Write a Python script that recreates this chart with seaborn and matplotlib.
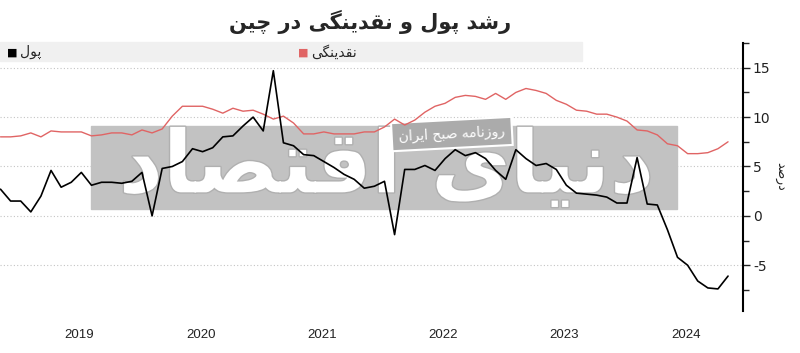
import numpy as np
import pandas as pd
import matplotlib.pyplot as plt
import matplotlib.patheffects as pe
from matplotlib.patches import Rectangle
import seaborn as sns

# monthly data, Oct 2018 .. Oct 2024 (yoy growth, %)
start_year, start_month = 2018, 10
m1 = [2.7, 1.5, 1.5,
      0.4, 2.0, 4.6, 2.9, 3.4, 4.4, 3.1, 3.4, 3.4, 3.3, 3.5, 4.4,
      0.0, 4.8, 5.0, 5.5, 6.8, 6.5, 6.9, 8.0, 8.1, 9.1, 10.0, 8.6,
      14.7, 7.4, 7.1, 6.2, 6.1, 5.5, 4.9, 4.2, 3.7, 2.8, 3.0, 3.5,
      -1.9, 4.7, 4.7, 5.1, 4.6, 5.8, 6.7, 6.1, 6.4, 5.8, 4.6, 3.7,
      6.7, 5.8, 5.1, 5.3, 4.7, 3.1, 2.3, 2.2, 2.1, 1.9, 1.3, 1.3,
      5.9, 1.2, 1.1, -1.4, -4.2, -5.0, -6.6, -7.3, -7.4, -6.1]
m2 = [8.0, 8.0, 8.1,
      8.4, 8.0, 8.6, 8.5, 8.5, 8.5, 8.1, 8.2, 8.4, 8.4, 8.2, 8.7,
      8.4, 8.8, 10.1, 11.1, 11.1, 11.1, 10.8, 10.4, 10.9, 10.6, 10.7, 10.3,
      9.8, 10.1, 9.4, 8.3, 8.3, 8.5, 8.3, 8.3, 8.3, 8.5, 8.5, 9.0,
      9.8, 9.2, 9.7, 10.5, 11.1, 11.4, 12.0, 12.2, 12.1, 11.8, 12.4, 11.8,
      12.5, 12.9, 12.7, 12.4, 11.7, 11.3, 10.7, 10.6, 10.3, 10.3, 10.0, 9.6,
      8.7, 8.6, 8.2, 7.3, 7.1, 6.3, 6.3, 6.4, 6.8, 7.5]
years = [2019, 2020, 2021, 2022, 2023, 2024]
y_ticks = [-5, 0, 5, 10, 15]

title = "رشد پول و نقدینگی در چین"
label_m1 = "پول"
label_m2 = "نقدینگی"
ylabel = "درصد"
stamp = "روزنامه صبح ایران"
logo = "دنیای اقتصاد"

# tiny persian shaper: (isolated, final, initial, medial)
FORMS = {
    'ا': ('\uFE8D', '\uFE8E', None, None),
    'ب': ('\uFE8F', '\uFE90', '\uFE91', '\uFE92'),
    'پ': ('\uFB56', '\uFB57', '\uFB58', '\uFB59'),
    'ت': ('\uFE95', '\uFE96', '\uFE97', '\uFE98'),
    'چ': ('\uFB7A', '\uFB7B', '\uFB7C', '\uFB7D'),
    'ح': ('\uFEA1', '\uFEA2', '\uFEA3', '\uFEA4'),
    'د': ('\uFEA9', '\uFEAA', None, None),
    'ر': ('\uFEAD', '\uFEAE', None, None),
    'ز': ('\uFEAF', '\uFEB0', None, None),
    'ش': ('\uFEB5', '\uFEB6', '\uFEB7', '\uFEB8'),
    'ص': ('\uFEB9', '\uFEBA', '\uFEBB', '\uFEBC'),
    'ق': ('\uFED5', '\uFED6', '\uFED7', '\uFED8'),
    'گ': ('\uFB92', '\uFB93', '\uFB94', '\uFB95'),
    'ل': ('\uFEDD', '\uFEDE', '\uFEDF', '\uFEE0'),
    'م': ('\uFEE1', '\uFEE2', '\uFEE3', '\uFEE4'),
    'ن': ('\uFEE5', '\uFEE6', '\uFEE7', '\uFEE8'),
    'ه': ('\uFEE9', '\uFEEA', '\uFEEB', '\uFEEC'),
    'و': ('\uFEED', '\uFEEE', None, None),
    'ی': ('\uFBFC', '\uFBFD', '\uFBFE', '\uFBFF'),
}


def fa(s):
    out = []
    for i, c in enumerate(s):
        if c not in FORMS:
            out.append(c)
            continue
        prev = s[i - 1] if i > 0 else ''
        nxt = s[i + 1] if i + 1 < len(s) else ''
        jp = prev in FORMS and FORMS[prev][2] is not None
        jn = nxt in FORMS and FORMS[c][2] is not None
        iso, fin, ini, med = FORMS[c]
        out.append(med if jp and jn else fin if jp else ini if jn else iso)
    return ''.join(out)[::-1]


df = pd.DataFrame({"i": np.arange(len(m1)), "m1": m1, "m2": m2})

sns.set_style("white")
plt.rcParams['font.family'] = ['DejaVu Sans']
plt.rcParams['axes.unicode_minus'] = False

fig = plt.figure(figsize=(8, 3.53), dpi=100)
ax = fig.add_axes([0, 0.12, 0.929, 0.758])

sns.lineplot(data=df, x="i", y="m2", color="#e06464", lw=1.0, ax=ax, zorder=4)
sns.lineplot(data=df, x="i", y="m1", color="black", lw=1.2, ax=ax, zorder=5)

ax.set_xlim(-0.05, 73.5)
ax.set_ylim(-9.6, 16.8)

# year labels sit a bit after each January
jan_pos = [(y - start_year) * 12 - (start_month - 1) + 4.8 for y in years]
ax.set_xticks(jan_pos, [str(y) for y in years])
ax.tick_params(axis='x', length=0, pad=13, labelsize=9.5, colors='#222222')
for t in ax.get_xticklabels():
    t.set_family('Liberation Sans')

ax.yaxis.tick_right()
ax.set_yticks(y_ticks)
ax.set_yticks([v + 2.5 for v in [-10] + y_ticks], minor=True)
ax.tick_params(axis='y', which='major', direction='out', length=5, width=1,
               labelsize=10, colors='#222222', pad=2)
ax.tick_params(axis='y', which='minor', direction='out', length=4, width=1)
ax.grid(axis='y', which='major', linestyle=(0, (1, 2)), color='#c4c4c4', lw=0.8)
ax.grid(axis='x', visible=False)
for s in ['top', 'left', 'bottom']:
    ax.spines[s].set_visible(False)
ax.spines['right'].set_linewidth(1.5)
ax.spines['right'].set_color('black')
ax.set_xlabel('')
ax.set_ylabel(fa(ylabel), rotation=270, fontsize=9, labelpad=12)
ax.yaxis.set_label_position('right')

# legend band
ax.add_patch(Rectangle((0, 0.933), 0.783, 0.07, transform=ax.transAxes,
                       color='#f0f0f0', zorder=1, clip_on=False))
fig.text(0.009, 0.852, '■', color='black', fontsize=8, va='center')
fig.text(0.025, 0.852, fa(label_m1), fontsize=10, va='center')
fig.text(0.373, 0.852, '■', color='#e06464', fontsize=8, va='center')
fig.text(0.389, 0.852, fa(label_m2), fontsize=10, va='center')

# watermark
ax.add_patch(Rectangle((0.1225, 0.38), 0.789, 0.31, transform=ax.transAxes,
                       color='#c2c2c2', zorder=2))
ax.text(0.52, 0.53, fa(logo), transform=ax.transAxes, fontsize=62,
        fontweight='bold', color='white', ha='center', va='center', zorder=3,
        path_effects=[pe.withStroke(linewidth=2, foreground='#b0b0b0')])
ax.text(0.608, 0.66, fa(stamp), transform=ax.transAxes, fontsize=10,
        color='white', ha='center', va='center', rotation=3, zorder=3,
        bbox=dict(boxstyle='square,pad=0.5', fc='#ababab', ec='white', lw=1.5))

fig.text(0.463, 0.937, fa(title), fontsize=15, fontweight='bold',
         ha='center', va='center')

fig.savefig("out.png", dpi=100)
